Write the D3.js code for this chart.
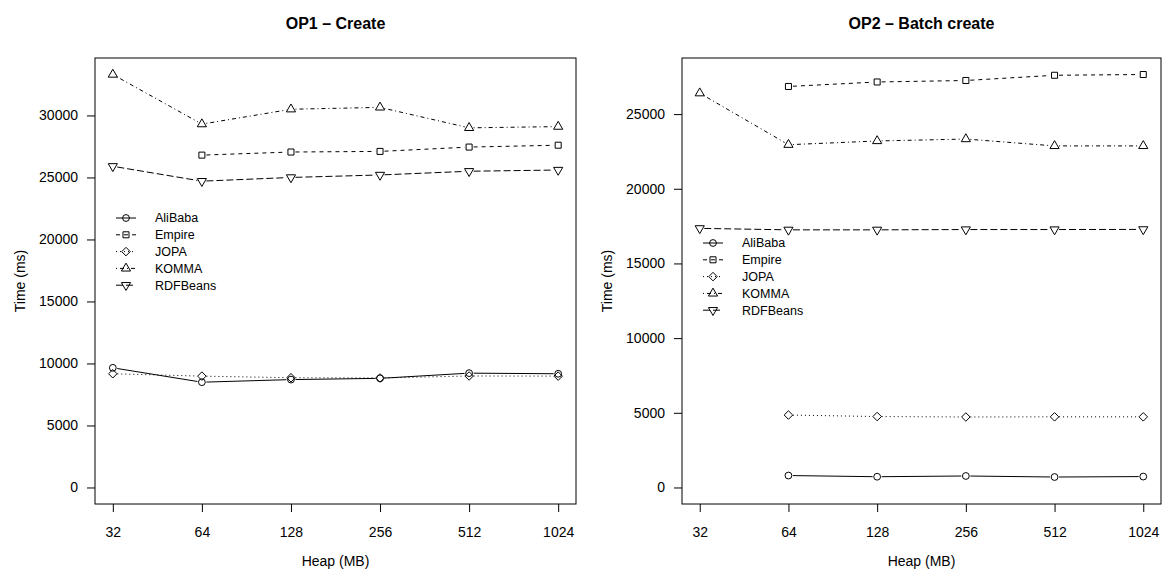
<!DOCTYPE html>
<html lang="en">
<head>
<meta charset="utf-8">
<script src="https://d3js.org/d3.v7.min.js"></script>
<style>
    body { margin: 0; background: #fff; font-family: 'Liberation Sans', Arial, sans-serif; }
    .tick text { font-size: 14px; fill: #000; font-family: 'Liberation Sans', Arial, sans-serif; }
    .tick line { stroke: #000; }
    .title { font-size: 16px; font-weight: bold; text-anchor: middle; }
    .axis-label { font-size: 14px; text-anchor: middle; }
    .legend text { font-size: 12.5px; }
</style>
</head>
<body>
<script>
    // x categories (heap size)
    var heaps = [32, 64, 128, 256, 512, 1024];
    var seriesNames = ["AliBaba", "Empire", "JOPA", "KOMMA", "RDFBeans"];

    // OP1 - Create
    var alibaba1 = [9650, 8490, 8700, 8800, 9220, 9170];
    var empire1  = [null, 26800, 27050, 27100, 27450, 27600];
    var jopa1    = [9170, 8980, 8850, 8830, 8990, 8980];
    var komma1   = [33300, 29300, 30500, 30650, 29000, 29100];
    var rdf1     = [25900, 24700, 25000, 25200, 25500, 25600];

    // OP2 - Batch create
    var alibaba2 = [null, 800, 720, 770, 700, 730];
    var empire2  = [null, 26850, 27150, 27250, 27600, 27650];
    var jopa2    = [null, 4850, 4750, 4720, 4730, 4730];
    var komma2   = [26400, 22950, 23200, 23330, 22870, 22870];
    var rdf2     = [17350, 17250, 17250, 17270, 17270, 17280];

    var yTicks1 = [0, 5000, 10000, 15000, 20000, 25000, 30000];
    var yTicks2 = [0, 5000, 10000, 15000, 20000, 25000];

    // line type / plotting symbol per series (R lty 1..5, pch 1,0,5,2,6)
    var dashes = [null, "4,4", "1,3", "1,3,4,3", "7,3"];
    var shapes = ["circle", "square", "diamond", "triangle", "triangleDown"];

    var width = 1163, height = 574;
    var svg = d3.select("body").append("svg")
        .attr("width", width)
        .attr("height", height);

    function symbolPath(shape) {
        var R = 3.4;
        if (shape === "circle") {
            return "M" + R + ",0A" + R + "," + R + " 0 1,1 " + (-R) + ",0A" + R + "," + R + " 0 1,1 " + R + ",0Z";
        }
        if (shape === "square") {
            var s = R * 0.886;
            return "M" + (-s) + "," + (-s) + "H" + s + "V" + s + "H" + (-s) + "Z";
        }
        if (shape === "diamond") {
            var d = R * 1.253;
            return "M0," + (-d) + "L" + d + ",0L0," + d + "L" + (-d) + ",0Z";
        }
        var r = R * 1.555, xc = R * 1.3468, yc = R * 0.7775;
        if (shape === "triangle") {
            return "M0," + (-r) + "L" + xc + "," + yc + "L" + (-xc) + "," + yc + "Z";
        }
        return "M0," + r + "L" + xc + "," + (-yc) + "L" + (-xc) + "," + (-yc) + "Z";
    }

    function drawPanel(opts) {
        var x0 = opts.left, x1 = opts.right, y0 = 58, y1 = 504;
        var g = svg.append("g");

        var pad = (x1 - x0) * 0.04 / 1.08;
        var x = d3.scalePoint()
            .domain(heaps)
            .range([x0 + pad, x1 - pad]);

        var maxVal = d3.max(opts.series, function(s) { return d3.max(s); });
        var y = d3.scaleLinear()
            .domain([-0.04 * maxVal, 1.04 * maxVal])
            .range([y1, y0]);

        // title
        g.append("text")
            .attr("class", "title")
            .attr("x", (x0 + x1) / 2)
            .attr("y", 29)
            .text(opts.title);

        // axes
        g.append("g")
            .attr("transform", "translate(" + x0 + ",0)")
            .call(d3.axisLeft(y).tickValues(opts.yTicks).tickFormat(d3.format("d")).tickSize(8).tickPadding(9))
            .call(function(a) { a.select(".domain").remove(); });

        g.append("g")
            .attr("transform", "translate(0," + y1 + ")")
            .call(d3.axisBottom(x).tickSize(8).tickPadding(15))
            .call(function(a) { a.select(".domain").remove(); });

        // frame
        g.append("rect")
            .attr("x", x0).attr("y", y0)
            .attr("width", x1 - x0).attr("height", y1 - y0)
            .attr("fill", "none")
            .attr("stroke", "#000")
            .attr("stroke-width", 1);

        g.append("text")
            .attr("class", "axis-label")
            .attr("x", (x0 + x1) / 2)
            .attr("y", 566)
            .text("Heap (MB)");

        g.append("text")
            .attr("class", "axis-label")
            .attr("transform", "translate(" + (x0 - 70) + "," + ((y0 + y1) / 2) + ") rotate(-90)")
            .text("Time (ms)");

        // series: type "b" -> lines with gaps at the points
        var gap = 4.5;
        opts.series.forEach(function(vals, i) {
            var pts = [];
            vals.forEach(function(v, j) {
                if (v !== null) pts.push([x(heaps[j]), y(v)]);
            });
            for (var k = 0; k < pts.length - 1; k++) {
                var a = pts[k], b = pts[k + 1];
                var dx = b[0] - a[0], dy = b[1] - a[1];
                var len = Math.sqrt(dx * dx + dy * dy);
                var ux = dx / len, uy = dy / len;
                g.append("line")
                    .attr("x1", a[0] + ux * gap).attr("y1", a[1] + uy * gap)
                    .attr("x2", b[0] - ux * gap).attr("y2", b[1] - uy * gap)
                    .attr("stroke", "#000")
                    .attr("stroke-width", 1)
                    .attr("stroke-dasharray", dashes[i]);
            }
            g.selectAll(null)
                .data(pts)
                .enter().append("path")
                .attr("transform", function(p) { return "translate(" + p[0] + "," + p[1] + ")"; })
                .attr("d", symbolPath(shapes[i]))
                .attr("fill", "none")
                .attr("stroke", "#000")
                .attr("stroke-width", 1);
        });

        // legend
        var lg = g.append("g").attr("class", "legend");
        seriesNames.forEach(function(name, i) {
            var ly = opts.legendY + i * 16.8;
            lg.append("line")
                .attr("x1", opts.legendX).attr("x2", opts.legendX + 20)
                .attr("y1", ly).attr("y2", ly)
                .attr("stroke", "#000")
                .attr("stroke-dasharray", dashes[i]);
            lg.append("path")
                .attr("transform", "translate(" + (opts.legendX + 10) + "," + ly + ")")
                .attr("d", symbolPath(shapes[i]))
                .attr("fill", "none")
                .attr("stroke", "#000");
            lg.append("text")
                .attr("x", opts.legendX + 39)
                .attr("y", ly)
                .attr("dy", "0.35em")
                .text(name);
        });
    }

    drawPanel({
        left: 95, right: 576,
        title: "OP1 \u2013 Create",
        series: [alibaba1, empire1, jopa1, komma1, rdf1],
        yTicks: yTicks1,
        legendX: 116, legendY: 218
    });

    drawPanel({
        left: 682, right: 1161,
        title: "OP2 \u2013 Batch create",
        series: [alibaba2, empire2, jopa2, komma2, rdf2],
        yTicks: yTicks2,
        legendX: 703, legendY: 243
    });
</script>
</body>
</html>
